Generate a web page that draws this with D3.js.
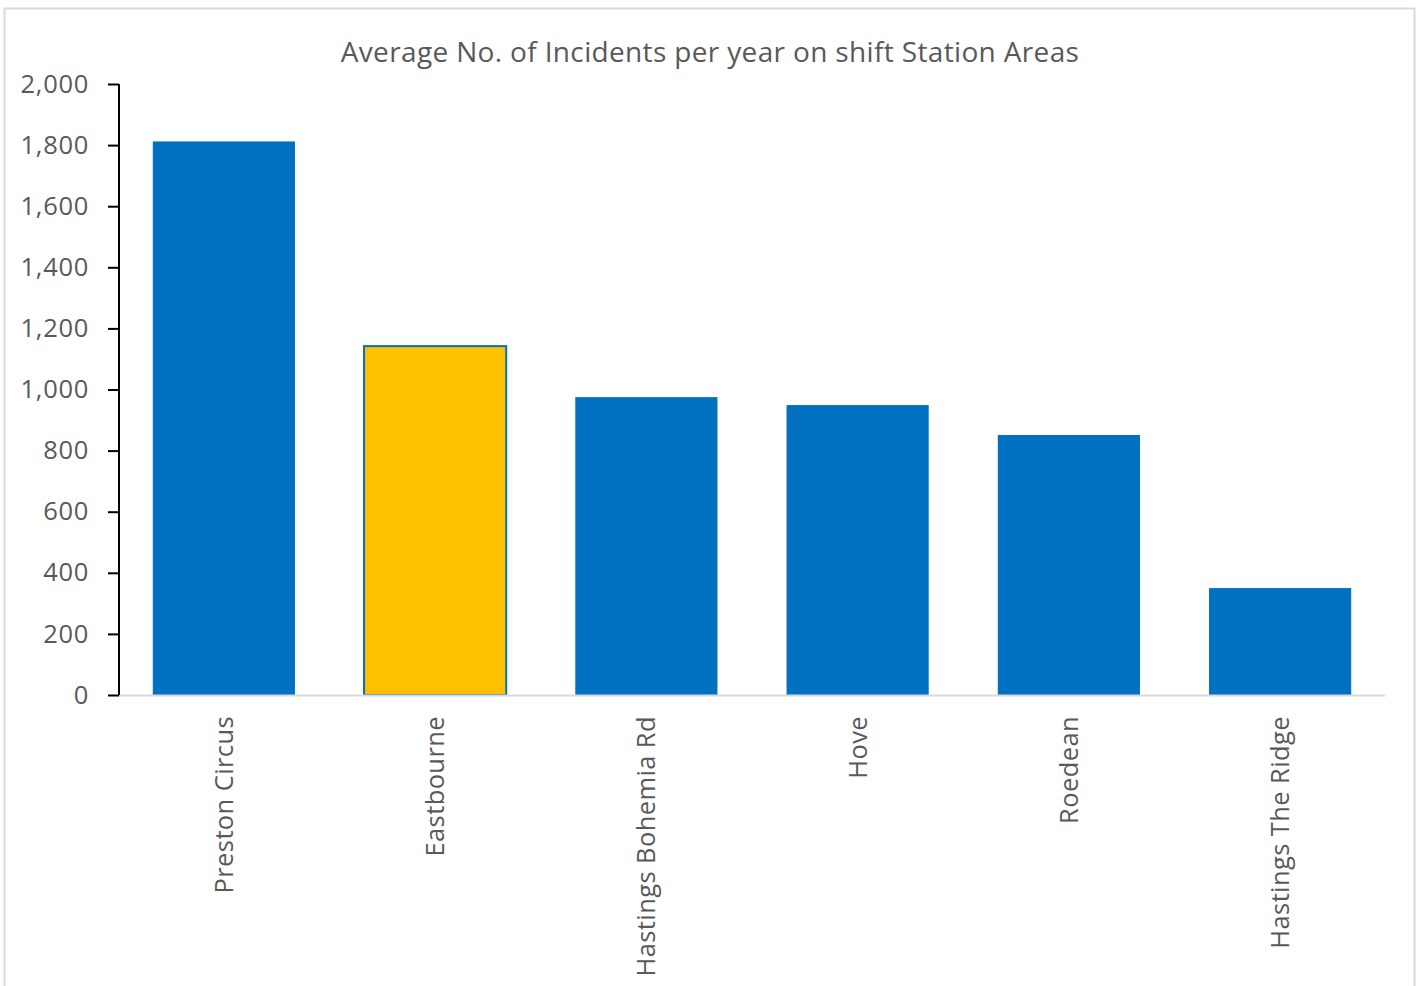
<!DOCTYPE html>
<html><head><meta charset="utf-8">
<script src="https://cdn.jsdelivr.net/npm/d3@7"></script>
<style>html,body{margin:0;padding:0;background:#fff;}</style>
</head><body>
<svg id="c" width="1420" height="986"></svg>
<script>
const categories = ["Preston Circus","Eastbourne","Hastings Bohemia Rd","Hove","Roedean","Hastings The Ridge"];
const values = [1812, 1142, 975, 949, 851, 350];
const highlight = ["Eastbourne"];
const yTicks = [0,200,400,600,800,1000,1200,1400,1600,1800,2000];
const title = "Average No. of Incidents per year on shift Station Areas";

const svg = d3.select("#c");
const font = "'Open Sans', 'Noto Sans', sans-serif";
const grey = "#595959";

// frame
svg.append("rect").attr("x",4.5).attr("y",8.5).attr("width",1410).attr("height",1000)
  .attr("fill","#fff").attr("stroke","#d9d9d9").attr("stroke-width",2);

const x0 = 119, x1 = 1385, y0 = 695, y1 = 84;
const x = d3.scaleBand().domain(categories).range([x0,x1]).paddingInner(0.327).paddingOuter(0.16);
const y = d3.scaleLinear().domain([0,2000]).range([y0,y1]);

svg.append("text").attr("x",710).attr("y",62).attr("text-anchor","middle")
  .attr("font-family",font).attr("font-size",28).attr("letter-spacing",0.35).attr("fill",grey).text(title);

// bars
svg.append("g").selectAll("rect").data(categories).join("rect")
  .attr("x",d=>x(d)).attr("width",x.bandwidth())
  .attr("y",(d,i)=>y(values[i])).attr("height",(d,i)=>y(0)-y(values[i]))
  .attr("fill",d=>highlight.includes(d)?"#ffc000":"#0070c0")
  .attr("stroke",d=>highlight.includes(d)?"#0070c0":"none")
  .attr("stroke-width",2);

// baseline
svg.append("line").attr("x1",x0).attr("x2",x1).attr("y1",y0+0.5).attr("y2",y0+0.5)
  .attr("stroke","#d9d9d9").attr("stroke-width",2);

// y axis
const ya = svg.append("g").attr("transform",`translate(${x0},0)`)
  .call(d3.axisLeft(y).tickValues(yTicks).tickSize(11).tickPadding(19).tickFormat(d3.format(",")));
ya.select(".domain").attr("stroke","#000").attr("stroke-width",2).attr("d",`M0,${y1}V${y0}`);
ya.selectAll(".tick line").attr("stroke","#000").attr("stroke-width",2);
ya.selectAll(".tick text").attr("font-family",font).attr("font-size",25.5).attr("letter-spacing",0.7).attr("fill",grey);

// x labels
svg.append("g").selectAll("text").data(categories).join("text")
  .attr("transform",d=>`translate(${x(d)+x.bandwidth()/2+9},716) rotate(-90)`)
  .attr("text-anchor","end")
  .attr("font-family",font).attr("font-size",25.5).attr("letter-spacing",0.4).attr("fill",grey).text(d=>d);
</script>
</body></html>
